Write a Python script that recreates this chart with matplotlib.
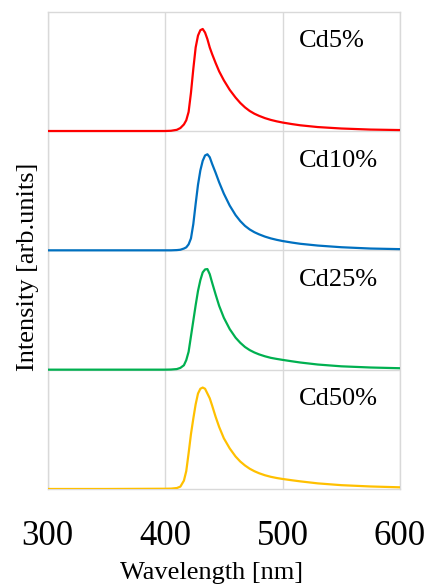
import matplotlib
matplotlib.use("Agg")
import matplotlib.pyplot as plt

plt.rcParams['font.family'] = ['Liberation Serif', 'DejaVu Serif']

# wavelength grid [nm] and normalised PL intensity
wavelength = [300, 350, 400, 405, 410, 413, 416, 418, 420, 422, 424, 426, 428, 430,
              432, 434, 436, 438, 440, 443, 446, 450, 455, 460, 464, 468, 472, 476,
              480, 485, 490, 495, 500, 508, 515, 530, 550, 575, 600]

cd5 = [0, 0, 0, 0.002, 0.01, 0.025, 0.055, 0.09, 0.16, 0.32, 0.52, 0.70, 0.80, 0.845,
       0.855, 0.825, 0.77, 0.70, 0.645, 0.57, 0.50, 0.425, 0.345, 0.28, 0.235, 0.198,
       0.168, 0.145, 0.127, 0.108, 0.093, 0.081, 0.071, 0.058, 0.048, 0.033, 0.021,
       0.012, 0.008]
cd10 = [0, 0, 0, 0, 0.002, 0.005, 0.015, 0.025, 0.05, 0.10, 0.22, 0.39, 0.55, 0.67,
        0.75, 0.795, 0.805, 0.78, 0.725, 0.65, 0.57, 0.475, 0.375, 0.295, 0.245, 0.205,
        0.175, 0.152, 0.134, 0.115, 0.10, 0.088, 0.078, 0.065, 0.055, 0.04, 0.026,
        0.015, 0.01]
cd25 = [0, 0, 0, 0.001, 0.005, 0.015, 0.037, 0.08, 0.15, 0.28, 0.41, 0.54, 0.66, 0.75,
        0.815, 0.84, 0.843, 0.80, 0.73, 0.63, 0.535, 0.435, 0.34, 0.268, 0.225, 0.19,
        0.164, 0.144, 0.128, 0.112, 0.099, 0.09, 0.082, 0.07, 0.06, 0.043, 0.028,
        0.018, 0.012]
cd50 = [0, 0, 0.002, 0.003, 0.008, 0.02, 0.07, 0.15, 0.30, 0.46, 0.59, 0.71, 0.80, 0.84,
        0.85, 0.84, 0.80, 0.76, 0.70, 0.605, 0.52, 0.425, 0.34, 0.272, 0.23, 0.197,
        0.17, 0.149, 0.132, 0.115, 0.102, 0.092, 0.084, 0.073, 0.064, 0.047, 0.032,
        0.021, 0.014]

labels = ['Cd5%', 'Cd10%', 'Cd25%', 'Cd50%']
series = [cd5, cd10, cd25, cd50]
colors = ['#FF0000', '#0070C0', '#00B050', '#FFC000']
grid_col = '#D9D9D9'

fig = plt.figure(figsize=(4.32, 5.84), dpi=100)
ax = fig.add_axes([0.1104, 0.1627, 0.8155, 0.8173])

n = len(series)
for i, (lab, y, c) in enumerate(zip(labels, series, colors)):
    off = n - 1 - i
    ax.plot(wavelength, [v + off for v in y], color=c, lw=1.6, zorder=3)
    ax.text(514, off + 0.70, lab, fontsize=19, va='baseline', ha='left')

ax.set_xlim(300, 600)
ax.set_ylim(0, n)
ax.set_xticks([300, 400, 500, 600])
ax.set_yticks(range(1, n))
ax.set_yticklabels([])
ax.tick_params(axis='both', length=0)
ax.tick_params(axis='x', labelsize=25, pad=22)
ax.grid(True, color=grid_col, lw=1)
for s in ax.spines.values():
    s.set_color(grid_col)
    s.set_linewidth(1)

# axis titles placed on the figure like the original chart area
fig.text(212 / 432, 1 - 579 / 584, 'Wavelength [nm]', fontsize=19,
         ha='center', va='baseline')
fig.text(28 / 432, 1 - 267 / 584, 'Intensity [arb.units]', fontsize=19,
         rotation=90, ha='center', va='center')

fig.savefig('out.png', dpi=100)
